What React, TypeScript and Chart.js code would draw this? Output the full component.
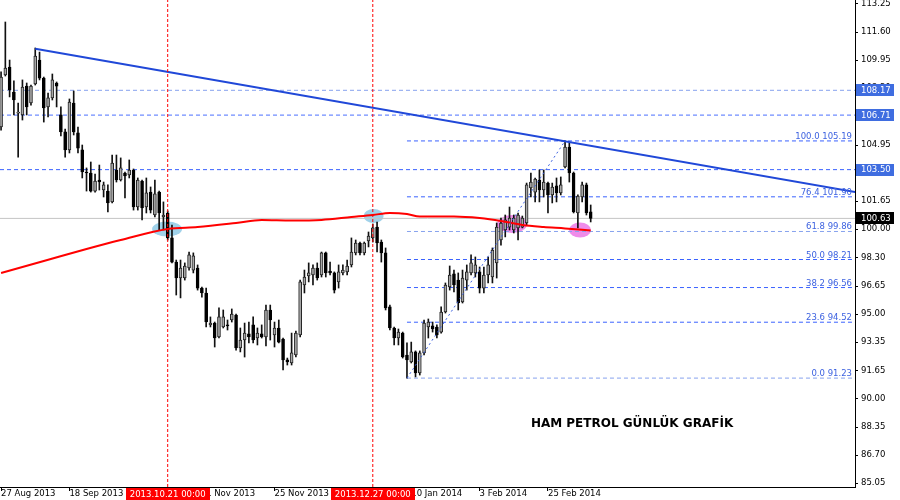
import React, { useEffect, useRef } from "react";
import { Chart, registerables } from "chart.js";

Chart.register(...registerables);

// ---------------- data (daily bars, index 0 = 27 Aug 2013) ----------------
const OPEN = [
  106.01, 109.07, 109.54, 108.07, 106.83, 106.72, 108.42, 107.42, 108.54, 109.95,
  108.89, 107.19, 107.72, 108.60, 106.72, 105.72, 104.66, 107.42, 105.66, 104.66,
  103.36, 103.30, 102.24, 102.89, 102.30, 102.24, 101.60, 103.48, 102.89, 103.30,
  103.19, 103.48, 101.30, 102.83, 101.30, 102.18, 100.83, 102.18, 100.71, 100.95,
  99.48, 98.06, 97.12, 97.12, 97.71, 97.59, 97.71, 96.53, 96.24, 94.36,
  94.47, 93.65, 94.24, 94.36, 94.65, 94.94, 93.00, 93.47, 93.83, 94.36,
  93.59, 93.83, 93.65, 95.24, 93.77, 94.18, 93.53, 92.30, 92.12, 92.59,
  93.77, 96.71, 97.24, 97.30, 97.71, 97.30, 98.60, 97.53, 97.42, 96.89,
  97.42, 97.48, 97.89, 98.60, 99.18, 98.60, 99.30, 99.48, 100.12, 99.24,
  98.60, 95.42, 94.18, 93.59, 93.88, 92.59, 92.18, 92.77, 91.53, 92.71,
  94.24, 94.30, 94.24, 93.94, 95.12, 96.59, 97.36, 97.00, 95.71, 97.00,
  97.42, 97.42, 97.48, 96.53, 97.30, 97.18, 98.01, 99.36, 99.95, 100.12,
  99.95, 100.07, 100.12, 100.36, 102.42, 102.18, 102.89, 102.30, 102.71, 102.01,
  102.54, 102.13, 103.66, 104.83, 103.30, 100.95, 101.89, 102.60, 101.01,
];
const HIGH = [
  109.25, 112.19, 109.95, 108.72, 107.42, 108.78, 108.60, 108.48, 110.66, 110.42,
  108.95, 108.01, 109.13, 108.66, 107.19, 105.89, 107.66, 108.13, 106.01, 104.95,
  103.60, 103.95, 103.24, 103.77, 102.77, 102.60, 104.36, 104.36, 104.19, 103.36,
  104.07, 103.54, 103.01, 102.89, 103.01, 102.48, 102.89, 102.24, 101.60, 101.07,
  100.24, 98.18, 98.18, 98.01, 98.65, 98.60, 97.89, 96.59, 96.53, 94.83,
  94.53, 95.36, 95.24, 94.65, 95.30, 95.00, 94.18, 94.47, 94.53, 94.83,
  94.18, 94.36, 95.53, 95.53, 94.53, 94.65, 93.59, 92.41, 93.88, 94.00,
  97.00, 97.59, 98.01, 97.89, 98.01, 98.65, 98.65, 98.06, 97.48, 97.89,
  97.89, 98.18, 99.48, 99.36, 99.24, 99.24, 99.83, 100.30, 100.42, 99.36,
  98.89, 95.53, 94.24, 94.12, 93.94, 93.30, 93.35, 92.83, 92.83, 94.65,
  94.71, 94.53, 94.36, 95.42, 96.83, 97.83, 97.59, 97.42, 97.59, 97.89,
  98.48, 98.36, 97.77, 97.77, 98.36, 98.89, 100.36, 100.65, 100.83, 101.30,
  100.83, 100.95, 100.77, 102.71, 103.30, 103.01, 103.48, 103.48, 102.77, 102.71,
  103.01, 103.07, 105.19, 105.07, 103.36, 102.01, 102.77, 102.71, 101.42,
];
const LOW = [
  105.83, 109.01, 107.78, 106.72, 104.24, 106.42, 106.72, 107.30, 108.48, 108.78,
  106.30, 106.60, 107.60, 107.19, 105.48, 104.24, 104.48, 105.54, 104.48, 103.01,
  102.24, 102.18, 102.18, 102.30, 101.89, 101.01, 101.54, 102.77, 102.83, 101.83,
  103.01, 101.12, 101.12, 100.54, 100.95, 100.95, 100.71, 99.95, 99.95, 99.36,
  98.01, 96.12, 95.95, 97.00, 97.59, 97.42, 96.41, 96.00, 94.24, 94.24,
  93.06, 93.59, 94.18, 94.06, 94.53, 92.88, 92.77, 92.47, 93.30, 93.30,
  93.18, 93.59, 93.12, 93.47, 93.06, 93.30, 91.71, 92.00, 92.00, 92.47,
  93.65, 96.24, 96.89, 96.71, 97.00, 97.18, 97.18, 97.30, 96.24, 96.53,
  97.30, 97.30, 97.77, 98.48, 98.48, 98.48, 98.95, 99.24, 98.65, 98.06,
  95.24, 94.06, 93.18, 93.18, 92.41, 91.23, 92.12, 91.30, 91.41, 92.59,
  93.59, 93.94, 93.59, 93.88, 95.06, 96.41, 96.30, 95.24, 95.65, 96.41,
  97.30, 97.18, 96.24, 96.24, 96.83, 96.83, 97.12, 99.06, 99.54, 99.95,
  99.77, 99.36, 100.07, 100.24, 101.89, 101.60, 101.60, 101.89, 100.95, 101.54,
  101.60, 102.01, 103.60, 102.77, 100.95, 100.07, 101.60, 100.83, 100.42,
];
const CLOSE = [
  108.95, 109.48, 108.19, 107.60, 106.89, 108.36, 107.19, 108.42, 110.19, 108.89,
  107.13, 107.72, 108.78, 108.42, 105.72, 104.66, 107.48, 105.72, 104.77, 103.36,
  103.30, 102.24, 102.83, 102.77, 102.60, 101.54, 103.89, 102.89, 103.60, 103.13,
  103.48, 101.30, 102.89, 101.24, 102.13, 101.12, 102.07, 100.95, 100.83, 99.48,
  98.06, 97.12, 97.71, 97.83, 98.48, 98.42, 96.53, 96.24, 94.53, 94.47,
  93.59, 94.83, 94.83, 94.30, 95.00, 93.00, 93.47, 93.88, 93.65, 93.47,
  93.88, 93.65, 95.24, 94.65, 94.18, 93.35, 92.30, 92.18, 92.71, 93.88,
  96.89, 97.18, 97.42, 97.71, 97.12, 98.60, 97.42, 97.42, 96.41, 97.48,
  97.59, 97.83, 98.65, 99.18, 98.60, 99.18, 99.59, 100.07, 99.18, 98.60,
  95.36, 94.18, 93.59, 93.94, 92.47, 92.30, 92.77, 91.53, 92.71, 94.47,
  94.53, 94.12, 93.77, 95.12, 96.71, 97.30, 96.71, 95.65, 97.12, 97.48,
  98.01, 97.89, 96.53, 97.30, 97.89, 98.77, 100.12, 100.36, 100.54, 100.65,
  100.65, 100.83, 100.65, 102.60, 102.77, 102.95, 102.30, 102.77, 102.01, 102.48,
  102.13, 102.60, 104.83, 103.30, 101.01, 101.95, 102.60, 100.95, 100.63,
];

// moving average read at sampled bars
const MA_BARS = [0, 10, 20, 28, 39, 46, 55, 61, 68, 75, 82, 87, 91, 95, 98, 106, 112, 117, 122, 127, 132, 138];
const MA_VALUES = [97.42, 98.12, 98.83, 99.36, 100.01, 100.12, 100.36, 100.54, 100.51, 100.54, 100.71, 100.83, 100.95, 100.89, 100.74, 100.74, 100.65, 100.48, 100.24, 100.12, 100.04, 99.92];

const X_TICK_BARS = [0, 16, 32, 48, 64, 80, 96, 112, 128];
const X_TICK_LABELS = ["27 Aug 2013", "18 Sep 2013", "10 Oct 2013", "1 Nov 2013", "25 Nov 2013", "17 Dec 2013", "10 Jan 2014", "3 Feb 2014", "25 Feb 2014"];
const Y_TICKS = [113.25, 111.6, 109.95, 108.3, 106.65, 104.95, 103.3, 101.65, 100.0, 98.3, 96.65, 95.0, 93.35, 91.65, 90.0, 88.35, 86.7, 85.05];

const LEVELS = [108.17, 106.71, 103.5];
const LAST_PRICE = 100.63;
const FIB_PCT = ["100.0", "76.4", "61.8", "50.0", "38.2", "23.6", "0.0"];
const FIB_VALUES = [105.19, 101.9, 99.86, 98.21, 96.56, 94.52, 91.23];
const FIB_FROM_BAR = 95;
const FIB_TO_BAR = 132;
const TREND_BARS = [8, 200];
const TREND_VALUES = [110.62, 102.18];
const VLINE_BARS = [39, 87];
const VLINE_LABELS = ["2013.10.21 00:00", "2013.12.27 00:00"];
const BLUE_MARK_BARS = [38.85, 87.2];
const BLUE_MARK_VALUES = [100.01, 100.77];
const PINK_MARK_BARS = [119.6, 135.5];
const PINK_MARK_VALUES = [100.3, 99.95];
const TITLE = "HAM PETROL GÜNLÜK GRAFİK";
const TITLE_BAR = 124;
const TITLE_VALUE = 88.53;

const X_MIN = -0.25;
const X_MAX = 199.86;
const Y_MIN = 84.82;
const Y_MAX = 113.485;

// ---------------- styles ----------------
const FONT = '"DejaVu Sans", Verdana, sans-serif';
const LEVEL_COLORS = ["#86a2ee", "#4a70ff", "#3a62ff"];
const FIB_COLORS = ["#3a62ff", "#3a62ff", "#86a2ee", "#3a62ff", "#3a62ff", "#3a62ff", "#86a2ee"];
const BLUE_MARK_R = [[15, 7.5], [10, 7]];
const PINK_MARK_R = [[15, 9], [11, 7.5]];

const overlayPlugin = {
  id: "overlay",
  beforeDatasetsDraw(chart: any) {
    const { ctx, chartArea: a, scales } = chart;
    const xs = scales.x, ys = scales.y;
    ctx.save();
    ctx.beginPath();
    ctx.rect(a.left, a.top, a.right - a.left, a.bottom - a.top);
    ctx.clip();
    const ell = (bars: number[], vals: number[], rs: number[][], color: string) => {
      bars.forEach((b, i) => {
        ctx.beginPath();
        ctx.ellipse(xs.getPixelForValue(b), ys.getPixelForValue(vals[i]), rs[i][0], rs[i][1], 0, 0, Math.PI * 2);
        ctx.fillStyle = color;
        ctx.fill();
      });
    };
    ell(BLUE_MARK_BARS, BLUE_MARK_VALUES, BLUE_MARK_R, "rgba(150,205,232,0.9)");
    ell(PINK_MARK_BARS, PINK_MARK_VALUES, PINK_MARK_R, "rgba(236,120,230,0.85)");
    ctx.restore();
  },
  afterDraw(chart: any) {
    const { ctx, chartArea: a, scales } = chart;
    const xs = scales.x, ys = scales.y;
    ctx.save();
    // fibonacci labels
    ctx.font = `8.5px ${FONT}`;
    ctx.textAlign = "right";
    ctx.textBaseline = "alphabetic";
    ctx.fillStyle = "#3d62e0";
    FIB_VALUES.forEach((v, i) => {
      ctx.fillText(`${FIB_PCT[i]} ${v.toFixed(2)}`, a.right - 3, ys.getPixelForValue(v) - 2);
    });
    // right axis price boxes
    const box = (v: number, bg: string) => {
      const py = ys.getPixelForValue(v);
      ctx.fillStyle = bg;
      ctx.fillRect(ys.left + 1, Math.round(py) - 6, 38, 12);
      ctx.fillStyle = "#ffffff";
      ctx.textAlign = "left";
      ctx.textBaseline = "middle";
      ctx.fillText(v.toFixed(2), ys.left + 6, py + 0.5);
    };
    LEVELS.forEach((v) => box(v, "#3f6de0"));
    box(LAST_PRICE, "#000000");
    // red date labels on time axis
    ctx.textAlign = "center";
    ctx.textBaseline = "middle";
    VLINE_BARS.forEach((b, i) => {
      const px = xs.getPixelForValue(b);
      const w = ctx.measureText(VLINE_LABELS[i]).width + 8;
      ctx.fillStyle = "#ff0000";
      ctx.fillRect(Math.round(px - w / 2), xs.top + 1, Math.round(w), 13);
      ctx.fillStyle = "#ffffff";
      ctx.fillText(VLINE_LABELS[i], px, xs.top + 7.5);
    });
    // title
    ctx.font = `bold 12px ${FONT}`;
    ctx.fillStyle = "#000000";
    ctx.textAlign = "left";
    ctx.textBaseline = "middle";
    ctx.fillText(TITLE, xs.getPixelForValue(TITLE_BAR), ys.getPixelForValue(TITLE_VALUE));
    ctx.restore();
  },
};

export default function App() {
  const ref = useRef<HTMLCanvasElement | null>(null);
  useEffect(() => {
    if (!ref.current) return;
    const bars = OPEN.map((_, i) => i);
    const hline = (v: number, from: number) => [
      { x: from, y: v },
      { x: X_MAX, y: v },
    ];
    const datasets: any[] = [];
    // candle wicks and bodies
    datasets.push({
      type: "bar",
      label: "wick",
      data: bars.map((i) => ({ x: i, y: [LOW[i], HIGH[i]] })),
      backgroundColor: "#111111",
      barThickness: 1,
      grouped: false,
      order: 6,
    });
    datasets.push({
      type: "bar",
      label: "body",
      data: bars.map((i) => ({ x: i, y: [OPEN[i], CLOSE[i]] })),
      backgroundColor: bars.map((i) => (CLOSE[i] >= OPEN[i] ? "#a8a8a8" : "#000000")),
      borderColor: bars.map((i) => (CLOSE[i] >= OPEN[i] ? "#222222" : "#000000")),
      borderWidth: 1,
      borderSkipped: false,
      barThickness: 3,
      minBarLength: 1,
      grouped: false,
      order: 5,
    });
    // horizontal levels
    LEVELS.forEach((v, i) => {
      datasets.push({
        type: "line",
        data: hline(v, X_MIN),
        borderColor: LEVEL_COLORS[i],
        borderWidth: 1,
        borderDash: [4, 3],
        order: 10,
      });
    });
    datasets.push({
      type: "line",
      data: hline(LAST_PRICE, X_MIN),
      borderColor: "#c4c4c4",
      borderWidth: 1,
      order: 11,
    });
    FIB_VALUES.forEach((v, i) => {
      datasets.push({
        type: "line",
        data: hline(v, FIB_FROM_BAR),
        borderColor: FIB_COLORS[i],
        borderWidth: 1,
        borderDash: [4, 3],
        order: 9,
      });
    });
    // fibonacci diagonal
    datasets.push({
      type: "line",
      data: [
        { x: FIB_FROM_BAR, y: FIB_VALUES[FIB_VALUES.length - 1] },
        { x: FIB_TO_BAR, y: FIB_VALUES[0] },
      ],
      borderColor: "#3a5fe0",
      borderWidth: 1,
      borderDash: [2, 3],
      order: 2,
    });
    // moving average
    datasets.push({
      type: "line",
      data: MA_BARS.map((b, i) => ({ x: b, y: MA_VALUES[i] })),
      borderColor: "#ff0000",
      borderWidth: 2,
      cubicInterpolationMode: "monotone",
      order: 3,
    });
    // trend line
    datasets.push({
      type: "line",
      data: TREND_BARS.map((b, i) => ({ x: b, y: TREND_VALUES[i] })),
      borderColor: "#2048d8",
      borderWidth: 2,
      order: 1,
    });
    // vertical date markers
    VLINE_BARS.forEach((b) => {
      datasets.push({
        type: "line",
        data: [
          { x: b, y: Y_MIN },
          { x: b, y: Y_MAX },
        ],
        borderColor: "#ff0000",
        borderWidth: 1,
        borderDash: [3, 2],
        order: 0,
      });
    });

    const chart = new Chart(ref.current, {
      type: "bar",
      data: { datasets },
      plugins: [overlayPlugin],
      options: {
        animation: false,
        responsive: false,
        events: [],
        layout: { padding: 0 },
        elements: { point: { radius: 0 }, line: { fill: false } },
        plugins: { legend: { display: false }, tooltip: { enabled: false }, title: { display: false } },
        scales: {
          x: {
            type: "linear",
            min: X_MIN,
            max: X_MAX,
            bounds: "data",
            offset: false,
            position: "bottom",
            grid: { display: true, drawOnChartArea: false, drawTicks: true, tickLength: 4, color: "#000000", offset: false },
            border: { display: true, color: "#000000", width: 1 },
            afterBuildTicks: (s: any) => {
              s.ticks = X_TICK_BARS.map((v) => ({ value: v }));
            },
            afterFit: (s: any) => {
              s.height = 13;
              s.paddingLeft = 0;
              s.paddingRight = 0;
            },
            ticks: {
              autoSkip: false,
              maxRotation: 0,
              minRotation: 0,
              align: "start",
              padding: -2,
              color: "#000000",
              font: { family: FONT, size: 8.5 },
              callback: (v: any) => {
                const k = X_TICK_BARS.indexOf(Number(v));
                return k >= 0 ? X_TICK_LABELS[k] : "";
              },
            },
          },
          y: {
            type: "linear",
            position: "right",
            min: Y_MIN,
            max: Y_MAX,
            bounds: "data",
            grid: { display: true, drawOnChartArea: false, drawTicks: true, tickLength: 3, color: "#000000" },
            border: { display: true, color: "#000000", width: 1 },
            afterBuildTicks: (s: any) => {
              s.ticks = Y_TICKS.map((v) => ({ value: v }));
            },
            afterFit: (s: any) => {
              s.width = 45;
              s.paddingTop = 0;
              s.paddingBottom = 0;
            },
            ticks: {
              autoSkip: false,
              padding: 3,
              color: "#000000",
              font: { family: FONT, size: 8.5 },
              callback: (v: any) => Number(v).toFixed(2),
            },
          },
        },
      } as any,
    });
    return () => chart.destroy();
  }, []);

  return (
    <div style={{ position: "fixed", left: 0, top: 0, width: 900, height: 500, background: "#ffffff" }}>
      <canvas ref={ref} width={900} height={500} style={{ display: "block" }} />
    </div>
  );
}
